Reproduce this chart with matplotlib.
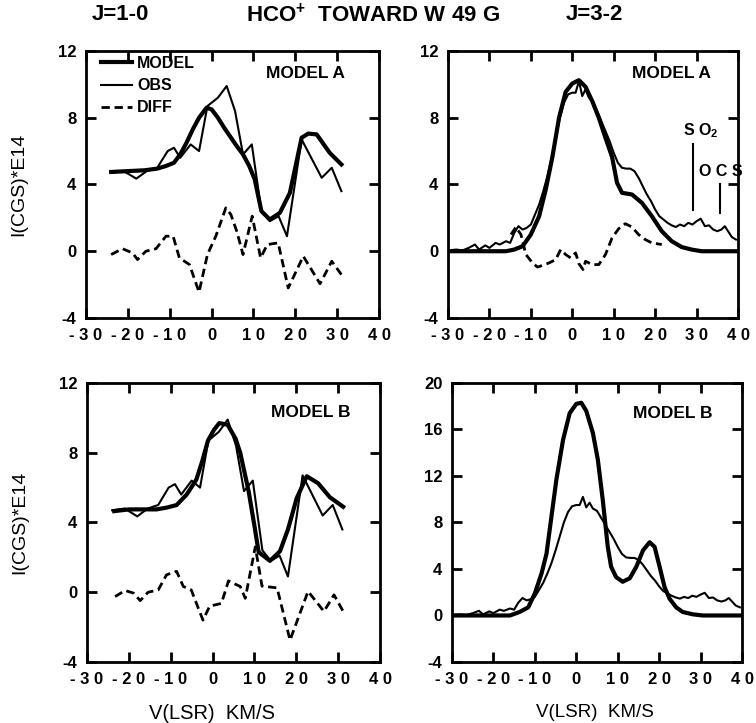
import matplotlib
matplotlib.use("Agg")
import matplotlib.pyplot as plt

plt.rcParams['font.family'] = ['Liberation Sans', 'DejaVu Sans']
plt.rcParams['font.weight'] = 'bold'
plt.rcParams['axes.unicode_minus'] = False
plt.rcParams['mathtext.fontset'] = 'custom'
plt.rcParams['mathtext.rm'] = 'Liberation Sans:bold'
plt.rcParams['mathtext.it'] = 'Liberation Sans:bold'
plt.rcParams['mathtext.bf'] = 'Liberation Sans:bold'

# ---- J=1-0 data (km/s, I(CGS)*E14) ----
modelA10_v = [-24, -20, -16, -13, -11, -9, -7.5, -6, -4.5, -3, -1.2, 0, 1.5, 3, 4.5,
              6, 7.5, 9, 10.3, 11.9, 13.9, 16.3, 18.7, 21.5, 23.1, 25.1, 28.2, 31]
modelA10_y = [4.75, 4.8, 4.85, 4.95, 5.1, 5.3, 5.8, 6.5, 7.3, 8.0, 8.6, 8.5, 8.0, 7.4, 6.85,
              6.3, 5.8, 5.1, 4.3, 2.4, 1.9, 2.3, 3.5, 6.8, 7.05, 7.0, 5.9, 5.2]

obs10_v = [-24, -21, -18, -15.5, -13, -10.5, -9, -7.5, -5, -3, -1, 1.5, 3.6, 5.6,
           7.5, 9.6, 11.9, 13.9, 16, 18, 21.5, 26.3, 28.7, 31]
obs10_y = [4.7, 4.8, 4.35, 4.8, 5.0, 6.0, 6.2, 5.6, 6.4, 6.0, 8.7, 9.2, 9.9, 8.4,
           5.8, 6.4, 2.4, 1.8, 2.1, 0.9, 6.7, 4.4, 5.0, 3.6]

diffA10_v = [-24, -21.3, -18.9, -17.7, -15.7, -13.3, -10.9, -9.2, -7.7, -5.3, -3, -1, 1,
             3.4, 4.6, 6, 7.5, 9.7, 11.7, 13.3, 15.9, 18.3, 21.9, 25.9, 28.7, 31]
diffA10_y = [-0.2, 0.15, -0.1, -0.5, 0.0, 0.15, 0.9, 0.9, -0.4, -0.8, -2.45, -0.2, 0.9,
             2.6, 2.2, 1.2, -0.2, 2.1, -0.4, 0.4, 0.5, -2.2, -0.3, -1.95, -0.6, -1.4]

modelB10_v = [-23.5, -20, -16, -13.4, -11, -8.6, -6.2, -3.9, -2.5, -1.1, 0.3, 1.6, 3.6,
              5.5, 6.6, 8.6, 10, 11, 13.7, 16.1, 18, 20.1, 22.5, 25.2, 28, 31.2]
modelB10_y = [4.65, 4.75, 4.75, 4.75, 4.85, 5.0, 5.6, 6.45, 7.5, 8.7, 9.3, 9.7, 9.6,
              8.8, 8.0, 5.8, 3.8, 2.3, 1.8, 2.35, 3.6, 5.4, 6.65, 6.25, 5.45, 4.9]

diffB10_v = [-23.3, -20.9, -18.9, -17.3, -15.4, -13, -11, -8.6, -7, -5.1, -2.3, -0.7, 2.1,
             3.8, 6.6, 7.8, 10.2, 11.8, 15.4, 18.5, 22.8, 26.6, 29, 31.2]
diffB10_y = [-0.25, 0.1, -0.05, -0.48, 0.0, 0.13, 1.0, 1.2, 0.33, 0.13, -1.6, -0.8, -0.64,
             0.65, 0.33, -0.35, 2.6, 0.35, 0.25, -2.75, 0.05, -1.1, -0.15, -1.1]

# ---- J=3-2 data ----
obs32_v = [-30, -28, -26.5, -25, -23.5, -22.5, -21, -20, -18.5, -17.5, -16, -15, -14, -13,
           -12, -11, -10, -9, -8, -7, -6, -5, -4, -3, -2, -1, 0, 0.8, 1.6, 2.4, 3.2, 4,
           5, 6, 7, 8, 9, 10, 11, 12, 13, 14, 15, 16, 17, 18, 19, 20, 21, 22, 23, 24,
           25, 26, 27, 28, 29, 30, 31, 32, 33, 34, 35, 36, 36.8, 37.6, 38.5, 39.5]
obs32_y = [0.05, 0.1, 0.05, 0.2, 0.4, 0.1, 0.35, 0.2, 0.5, 0.4, 0.6, 0.5, 1.1, 1.5,
           1.3, 1.4, 1.6, 2.2, 2.8, 3.6, 4.5, 5.6, 6.8, 8.0, 8.9, 9.4, 9.5, 9.5, 10.2, 9.3, 9.7, 9.2,
           9.0, 8.4, 7.8, 7.2, 6.6, 5.9, 5.3, 5.0, 4.95, 4.95, 4.8, 4.4, 3.9, 3.4, 3.0, 2.5, 2.1, 1.9, 1.7, 1.55,
           1.45, 1.6, 1.5, 1.7, 1.6, 1.8, 1.95, 1.5, 1.55, 1.3, 1.2, 1.3, 1.5, 1.2, 0.85, 0.7]

modelA32_v = [-30, -16, -14, -12, -10, -8, -6.4, -4.8, -3.2, -1.6, 0, 1.6, 3.2, 4.8, 6.4,
              8, 9.6, 10.8, 12, 14.4, 16.8, 19.2, 21.6, 24, 26.4, 28.8, 31.2, 40]
modelA32_y = [0, 0, 0.1, 0.3, 1.0, 2.1, 3.7, 5.65, 8.0, 9.55, 10.05, 10.25, 9.85, 9.0, 8.0,
              6.8, 5.65, 4.1, 3.5, 3.4, 2.9, 2.1, 1.2, 0.6, 0.25, 0.1, 0.0, 0.0]

diffA32_v = [-14.8, -13.6, -12.4, -11.2, -9.6, -8.4, -7.2, -5.6, -4, -2.8, -1.6, -0.4, 0.8,
             1.6, 2.6, 3.2, 4.8, 6.4, 8, 9.6, 11.2, 12.8, 14.4, 16, 17.6, 19.2, 21.6]
diffA32_y = [1.0, 1.45, 1.0, -0.2, -0.7, -0.95, -0.85, -0.7, -0.5, 0.1, -0.2, -0.4, -0.1,
             -0.75, -1.1, -0.6, -0.8, -0.8, -0.2, 0.8, 1.35, 1.65, 1.45, 1.0, 0.7, 0.5, 0.4]

modelB32_v = [-30, -16, -13.7, -11.6, -10, -8.4, -7.2, -6, -4.8, -3.2, -1.6, 0, 1.2, 2.4,
              4, 5.2, 6.4, 7.6, 8.4, 9.6, 11.2, 12.9, 14.5, 16.1, 17.7, 18.9, 20.1, 21.3,
              22.5, 24.1, 25.7, 28.1, 30.5, 40]
modelB32_y = [0, 0, 0.3, 0.7, 1.9, 3.6, 5.3, 8.5, 11.7, 15.1, 17.4, 18.2, 18.3, 17.6,
              15.7, 13.4, 9.9, 5.9, 4.2, 3.3, 2.9, 3.2, 4.2, 5.6, 6.3, 5.9, 4.2, 2.45,
              1.45, 0.7, 0.3, 0.1, 0, 0]

xticks = [-30, -20, -10, 0, 10, 20, 30, 40]
xticklabels = ['- 3 0', '- 2 0', '- 1 0', '0', '1 0', '2 0', '3 0', '4 0']

THICK = 3.0
THIN = 1.5
DASH = dict(lw=2.0, dashes=(3.0, 1.7))

fig = plt.figure(figsize=(7.56, 7.23), dpi=100)
ax1 = fig.add_axes([0.1138, 0.5602, 0.3876, 0.3693])
ax2 = fig.add_axes([0.5926, 0.5602, 0.3836, 0.3693])
ax3 = fig.add_axes([0.1151, 0.0844, 0.3876, 0.3859])
ax4 = fig.add_axes([0.5979, 0.0844, 0.3836, 0.3859])

for ax in [ax1, ax2, ax3, ax4]:
    ax.set_xlim(-30, 40)
    ax.set_xticks(xticks)
    ax.set_xticklabels(xticklabels)
    for s in ax.spines.values():
        s.set_linewidth(2.0)
    ax.tick_params(direction='in', top=True, right=True, length=7, width=2,
                   labelsize=12, pad=7)

for ax in [ax1, ax2, ax3]:
    ax.set_ylim(-4, 12)
    ax.set_yticks([-4, 0, 4, 8, 12])
ax4.set_ylim(-4, 20)
ax4.set_yticks([-4, 0, 4, 8, 12, 16, 20])

# top-left: J=1-0 model A
ax1.plot(modelA10_v, modelA10_y, color='black', lw=THICK, label='MODEL')
ax1.plot(obs10_v, obs10_y, color='black', lw=THIN, label='OBS')
ax1.plot(diffA10_v, diffA10_y, color='black', label='DIFF', **DASH)
ax1.legend(loc='upper left', bbox_to_anchor=(0.03, 1.005), frameon=False,
           fontsize=11.5, handlelength=1.9, handletextpad=0.35,
           labelspacing=0.45, borderaxespad=0.0, borderpad=0.4)
ax1.text(0.75, 0.915, 'MODEL A', transform=ax1.transAxes, ha='center',
         va='center', fontsize=12.5)

# top-right: J=3-2 model A
ax2.plot(modelA32_v, modelA32_y, color='black', lw=THICK)
ax2.plot(obs32_v, obs32_y, color='black', lw=THIN)
ax2.plot(diffA32_v, diffA32_y, color='black', **DASH)
ax2.text(0.77, 0.915, 'MODEL A', transform=ax2.transAxes, ha='center',
         va='center', fontsize=12.5)
ax2.plot([29.2, 29.2], [2.5, 6.4], color='black', lw=1.5)
ax2.plot([35.7, 35.7], [2.3, 4.0], color='black', lw=1.5)
ax2.text(30.9, 7.2, 'S O$_2$', ha='center', va='center', fontsize=11.5)
ax2.text(35.8, 4.75, 'O C S', ha='center', va='center', fontsize=11.5)

# bottom-left: J=1-0 model B
ax3.plot(modelB10_v, modelB10_y, color='black', lw=THICK)
ax3.plot(obs10_v, obs10_y, color='black', lw=THIN)
ax3.plot(diffB10_v, diffB10_y, color='black', **DASH)
ax3.text(0.765, 0.895, 'MODEL B', transform=ax3.transAxes, ha='center',
         va='center', fontsize=12.5)

# bottom-right: J=3-2 model B
ax4.plot(modelB32_v, modelB32_y, color='black', lw=THICK)
ax4.plot(obs32_v, obs32_y, color='black', lw=THIN)
ax4.text(0.76, 0.89, 'MODEL B', transform=ax4.transAxes, ha='center',
         va='center', fontsize=12.5)

for ax in [ax1, ax3]:
    ax.set_ylabel('I(CGS)*E14', fontsize=14)
    ax.yaxis.set_label_coords(-0.2, 0.5)

ax3.set_xlabel('V(LSR)  KM/S', fontsize=14.5)
ax3.xaxis.set_label_coords(0.427, -0.15)
ax4.set_xlabel('V(LSR)  KM/S', fontsize=13.5)
ax4.xaxis.set_label_coords(0.493, -0.15)

fig.text(120 / 756, 1 - 15 / 723, 'J=1-0', ha='center', va='center', fontsize=16)
fig.text(373 / 756, 1 - 15 / 723, r'HCO$^{+}$  TOWARD W 49 G', ha='center',
         va='center', fontsize=16)
fig.text(594 / 756, 1 - 15 / 723, 'J=3-2', ha='center', va='center', fontsize=16)

fig.savefig('out.png', dpi=100)
